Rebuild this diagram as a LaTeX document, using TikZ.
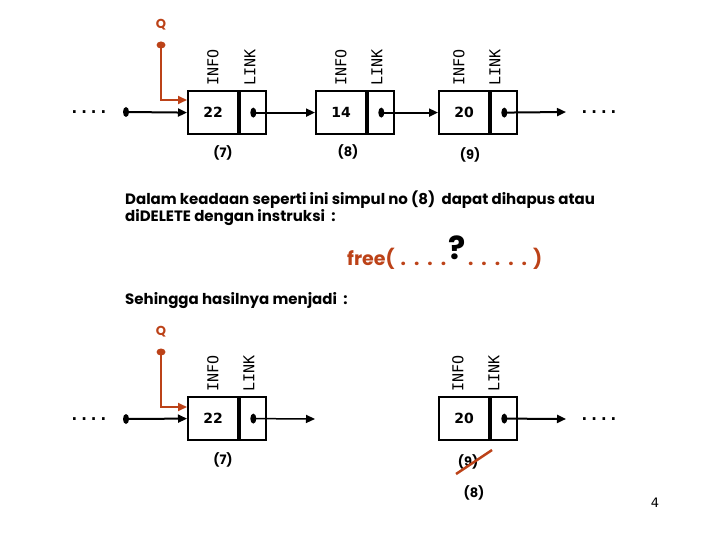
\documentclass[tikz,border=0pt]{standalone}
\usepackage{fontspec}
\setmainfont{Poppins}
\newfontfamily\monof{DejaVu Sans Mono}
\newfontfamily\numf{DejaVu Sans}
\usetikzlibrary{arrows.meta,shapes.geometric}
\definecolor{qred}{RGB}{188,66,24}
\newcommand{\dd}{\makebox[13.4pt]{.}}
\begin{document}
\begin{tikzpicture}[x=1pt,y=-1pt,
  cell/.style={draw, line width=2.2pt, minimum height=43pt, inner sep=0pt, anchor=north west},
  infocell/.style={cell, minimum width=50pt, font=\numf\bfseries\fontsize{14}{14}\selectfont},
  linkcell/.style={cell, minimum width=26pt},
  fld/.style={rotate=90, anchor=west, font=\monof\fontsize{15}{15}\selectfont, inner sep=0pt},
  ptr/.style={line width=2pt, -{Triangle[length=9pt,width=8pt]}},
  thinptr/.style={line width=1.5pt, -{Triangle[length=9pt,width=8pt]}},
  qptr/.style={draw=qred, line width=2pt, -{Triangle[length=9pt,width=8pt]}},
  dotm/.style={ellipse, fill, minimum width=6pt, minimum height=10pt, inner sep=0pt},
  qdot/.style={ellipse, fill=qred, minimum width=9pt, minimum height=7pt, inner sep=0pt},
  more/.style={font=\monof\bfseries\fontsize{16}{16}\selectfont, inner sep=0pt},
  num/.style={font=\bfseries\fontsize{13}{13}\selectfont, inner sep=0pt},
  qlbl/.style={text=qred, font=\bfseries\fontsize{13}{13}\selectfont, inner sep=0pt},
  txt/.style={font=\bfseries\fontsize{15}{18}\selectfont, inner sep=0pt, anchor=base west},
  freet/.style={text=qred, font=\bfseries\fontsize{19}{19}\selectfont, inner sep=0pt, anchor=base west},
]
\useasboundingbox (0,0) rectangle (720,540);

% ---------- top list ----------
\node[more] (m1) at (89,112) {....};
\node[dotm] (s1) at (126,112) {};
\node[infocell] (i1) at (187,90) {22};
\node[linkcell] (l1) at (i1.north east) {};
\node[infocell] (i2) at (315,90) {14};
\node[linkcell] (l2) at (i2.north east) {};
\node[infocell] (i3) at (438,90) {20};
\node[linkcell] (l3) at (i3.north east) {};
\node[more] (m2) at (599,112) {....};

\node[dotm] (d1) at (l1.center) {};
\node[dotm] (d2) at (l2.center) {};
\node[dotm] (d3) at (l3.center) {};
\coordinate (e3) at (566,112);

\draw[ptr] (s1.center) -- (i1.west);
\draw[ptr] (d1.center) -- (i2.west);
\draw[ptr] (d2.center) -- (i3.west);
\draw[ptr] (d3.center) -- (e3);

\node[fld] (f1) at (213,86) {INFO};
\node[fld] (g1) at (250,86) {LINK};
\node[fld] (f2) at (341,86) {INFO};
\node[fld] (g2) at (377,86) {LINK};
\node[fld] (f3) at (459,86) {INFO};
\node[fld] (g3) at (495,86) {LINK};

\node[qlbl] (q1) at (161,25) {Q};
\node[qdot] (qd1) at (161,45) {};
\draw[qptr] (qd1.center) |- (i1.west |- 0,100);

\node[num] (n7) at (223,153) {(7)};
\node[num] (n8) at (348,152) {(8)};
\node[num] (n9) at (470,155) {(9)};

% ---------- text ----------
\node[txt] (t1) at (125,205) {Dalam keadaan seperti ini simpul no (8)\ \ dapat dihapus atau};
\node[txt] (t2) at (125,222) {diDELETE dengan instruksi\ \ :};
\node[freet] (fr1) at (347,265) {free(\hspace{2pt}\dd\dd\dd\dd};
\node[anchor=base, inner sep=0pt, font=\bfseries\fontsize{32}{32}\selectfont] (qm) at (fr1.base east) [xshift=7pt, yshift=6pt] {?};
\node[freet] (fr2) at (fr1.base east) [xshift=13.4pt] {\dd\dd\dd\dd\dd\hspace{2pt})};
\node[txt] (t3) at (125,304) {Sehingga hasilnya menjadi\ \ :};

% ---------- bottom list ----------
\node[more] (m3) at (89,419) {....};
\node[dotm] (s2) at (126,419) {};
\node[infocell] (b1) at (187,396) {22};
\node[linkcell] (bl1) at (b1.north east) {};
\node[infocell] (b3) at (438,396) {20};
\node[linkcell] (bl3) at (b3.north east) {};
\node[more] (m4) at (599,419) {....};

\node[dotm] (bd1) at (bl1.center) {};
\node[dotm] (bd3) at (bl3.center) {};
\coordinate (be1) at (315,419);
\coordinate (be3) at (566,419);

\draw[ptr] (s2.center) -- (b1.west);
\draw[thinptr] (bd1.center) -- (be1);
\draw[ptr] (bd3.center) -- (be3);

\node[fld] (bf1) at (213,392) {INFO};
\node[fld] (bg1) at (249,392) {LINK};
\node[fld] (bf3) at (458,392) {INFO};
\node[fld] (bg3) at (494,392) {LINK};

\node[qlbl] (q2) at (161,332) {Q};
\node[qdot] (qd2) at (161,352) {};
\draw[qptr] (qd2.center) |- (b1.west |- 0,407);

\node[num] (bn7) at (223,460) {(7)};
\node[num] (bn9) at (468,462) {(9)};
\coordinate (x1) at (456,474);
\coordinate (x2) at (492,450);
\draw[qred, line width=2.5pt] (x1) -- (x2);
\node[num] (bn8) at (474,493) {(8)};

\node[inner sep=0pt, font=\fontsize{13}{13}\selectfont\numf] (pg) at (655,503) {4};
\end{tikzpicture}
\end{document}
